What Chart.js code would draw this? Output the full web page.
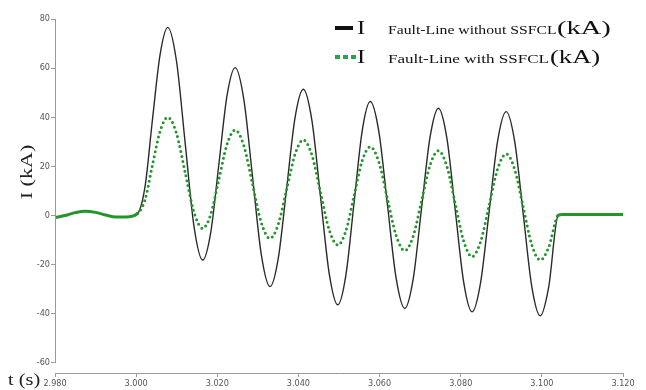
<!DOCTYPE html>
<html>
<head>
<meta charset="utf-8">
<script src="https://cdn.jsdelivr.net/npm/chart.js@4/dist/chart.umd.min.js"></script>
<style>
  html, body { margin: 0; padding: 0; background: #ffffff; }
  #wrap { position: relative; width: 646px; height: 390px; }
  #c { position: absolute; left: 0; top: 0; }
  .lg { position: absolute; font-family: "Liberation Serif", "Times New Roman", serif; color: #111; white-space: nowrap; line-height: 1; transform-origin: 0 0; }
  .big { font-size: 19px; }
  .sub { font-size: 12px; }
  .sw { position: absolute; }
</style>
</head>
<body>
<div id="wrap">
  <canvas id="c" width="646" height="390"></canvas>
  <!-- legend -->
  <div class="sw" style="left:335px; top:26px; width:18px; height:4px; background:#111;"></div>
  <div class="lg big" style="left:357px; top:18px; transform:scaleX(1.3);">I</div>
  <div class="lg sub" style="left:388px; top:24px; transform:scaleX(1.31);">Fault-Line without SSFCL</div>
  <div class="lg big" style="left:557px; top:18px; transform:scaleX(1.5);">(kA)</div>

  <div class="sw" style="left:335px; top:55px; width:21px; height:4px; background:repeating-linear-gradient(90deg,#1fa84a 0px,#1fa84a 5px,transparent 5px,transparent 8px);"></div>
  <div class="lg big" style="left:357px; top:47px; transform:scaleX(1.3);">I</div>
  <div class="lg sub" style="left:388px; top:53px; transform:scaleX(1.42);">Fault-Line with SSFCL</div>
  <div class="lg big" style="left:550px; top:47px; transform:scaleX(1.4);">(kA)</div>
</div>
<script>
// ---- data ----
const TIME = [
  2.980, 2.9825, 2.985, 2.9874, 2.990, 2.9925, 2.995, 2.9975, 3.0003,
  3.0022, 3.0040, 3.0059, 3.0078,
  3.00995, 3.0121, 3.01425, 3.0164,
  3.0184, 3.0204, 3.0224, 3.0244,
  3.02655, 3.0287, 3.03085, 3.0330,
  3.03505, 3.0371, 3.03915, 3.0412,
  3.04333, 3.04545, 3.04758, 3.0497,
  3.0517, 3.0537, 3.0557, 3.0577,
  3.05983, 3.06195, 3.06408, 3.0662,
  3.06828, 3.07035, 3.07243, 3.0745,
  3.07658, 3.07865, 3.08073, 3.0828,
  3.0849, 3.0870, 3.0891, 3.0912,
  3.0933, 3.0954, 3.0975, 3.0996,
  3.1017, 3.1040,
  3.1050, 3.1100, 3.1150, 3.1200
];
const WITHOUT_SSFCL = [
  -0.8, 0.0, 1.2, 1.8, 1.3, 0.2, -0.6, -0.6, 0.8,
  11.9, 38.7, 65.5, 76.6,
  62.8, 29.3, -4.3, -18.1,
  -6.7, 21.0, 48.8, 60.2,
  47.2, 15.6, -15.9, -28.9,
  -17.2, 11.2, 39.7, 51.4,
  38.6, 7.5, -23.5, -36.3,
  -24.2, 5.0, 34.3, 46.4,
  34.1, 4.3, -25.5, -37.8,
  -25.9, 3.0, 31.8, 43.7,
  31.6, 2.2, -27.1, -39.2,
  -27.3, 1.5, 30.4, 42.3,
  30.2, 0.8, -28.7, -40.8,
  -28.9, 0.0,
  0.4, 0.4, 0.4, 0.4
];
const WITH_SSFCL = [
  -0.8, 0.0, 1.2, 1.8, 1.3, 0.2, -0.6, -0.6, 0.8,
  6.5, 20.4, 34.3, 40.0,
  33.4, 17.4, 1.4, -5.2,
  0.6, 14.8, 29.0, 34.8,
  28.4, 12.7, -2.9, -9.3,
  -3.4, 10.7, 24.9, 30.8,
  24.6, 9.4, -5.8, -12.0,
  -6.2, 8.0, 22.2, 28.0,
  21.8, 6.8, -8.1, -14.3,
  -8.4, 6.0, 20.5, 26.4,
  20.1, 4.8, -10.4, -16.7,
  -10.6, 4.2, 19.0, 25.1,
  18.8, 3.5, -11.8, -18.1,
  -12.8, 0.0,
  0.4, 0.4, 0.4, 0.4
];
const X_TICKS = [2.980, 3.000, 3.020, 3.040, 3.060, 3.080, 3.100, 3.120];
const Y_TICKS = [-60, -40, -20, 0, 20, 40, 60, 80];
const FAULT_START = 3.0003, FAULT_END = 3.1040;

const toXY = (vals) => TIME.map((t, i) => ({ x: t, y: vals[i] }));

const tickFont = { family: '"Liberation Sans Narrow", "DejaVu Sans Condensed", "Liberation Sans", sans-serif', size: 9 };

const decor = {
  id: 'decor',
  afterDraw(chart) {
    const ctx = chart.ctx;
    const y = chart.scales.y, x = chart.scales.x;
    ctx.save();
    // y axis line from 80 down to -60
    ctx.strokeStyle = '#9a9a9a';
    ctx.lineWidth = 1;
    ctx.beginPath();
    const ax = Math.round(x.left) + 0.5;
    ctx.moveTo(ax, y.getPixelForValue(Y_TICKS[Y_TICKS.length - 1]));
    ctx.lineTo(ax, y.getPixelForValue(Y_TICKS[0]));
    ctx.stroke();
    // y axis title
    ctx.fillStyle = '#222';
    ctx.font = '17px "Liberation Serif", "Times New Roman", serif';
    ctx.textAlign = 'center';
    ctx.textBaseline = 'middle';
    ctx.save();
    ctx.translate(28, 172);
    ctx.rotate(-Math.PI / 2);
    ctx.scale(1.3, 1);
    ctx.fillText('I (kA)', 0, 0);
    ctx.restore();
    // x axis title
    ctx.save();
    ctx.textAlign = 'left';
    ctx.textBaseline = 'alphabetic';
    ctx.translate(8, 385);
    ctx.scale(1.2, 1);
    ctx.fillText('t (s)', 0, 0);
    ctx.restore();
    ctx.restore();
  }
};

new Chart(document.getElementById('c'), {
  type: 'line',
  data: {
    datasets: [
      {
        label: 'I Fault-Line without SSFCL(kA)',
        data: toXY(WITHOUT_SSFCL),
        borderColor: '#2a2a2a',
        borderWidth: 1.4,
        pointRadius: 0,
        cubicInterpolationMode: 'monotone',
        order: 2
      },
      {
        label: 'I Fault-Line with SSFCL(kA)',
        data: toXY(WITH_SSFCL),
        borderColor: '#23952a',
        borderWidth: 3,
        borderCapStyle: 'round',
        pointRadius: 0,
        cubicInterpolationMode: 'monotone',
        segment: {
          borderDash: (c) => (c.p0.parsed.x >= FAULT_START && c.p1.parsed.x <= FAULT_END) ? [0, 5] : []
        },
        order: 1
      }
    ]
  },
  options: {
    responsive: false,
    animation: false,
    events: [],
    layout: { padding: { left: 0, top: 19, right: 23, bottom: 0 } },
    plugins: { legend: { display: false }, tooltip: { enabled: false } },
    scales: {
      x: {
        type: 'linear',
        min: 2.98,
        max: 3.12,
        afterBuildTicks: (s) => { s.ticks = X_TICKS.map(v => ({ value: v })); },
        afterFit: (s) => { s.height = 17; },
        ticks: {
          font: tickFont, color: '#555', padding: 1, maxRotation: 0, autoSkip: false,
          callback: (v) => Number(v).toFixed(3)
        },
        grid: { drawOnChartArea: false, drawTicks: true, tickLength: 4, color: '#9a9a9a' },
        border: { display: true, color: '#9a9a9a', width: 1 }
      },
      y: {
        type: 'linear',
        min: -64.07,
        max: 80,
        afterBuildTicks: (s) => { s.ticks = Y_TICKS.map(v => ({ value: v })); },
        afterFit: (s) => { s.width = 55; },
        ticks: { font: tickFont, color: '#555', padding: 1 },
        grid: { drawOnChartArea: false, drawTicks: true, tickLength: 4, color: '#9a9a9a' },
        border: { display: false }
      }
    }
  },
  plugins: [decor]
});
</script>
</body>
</html>
